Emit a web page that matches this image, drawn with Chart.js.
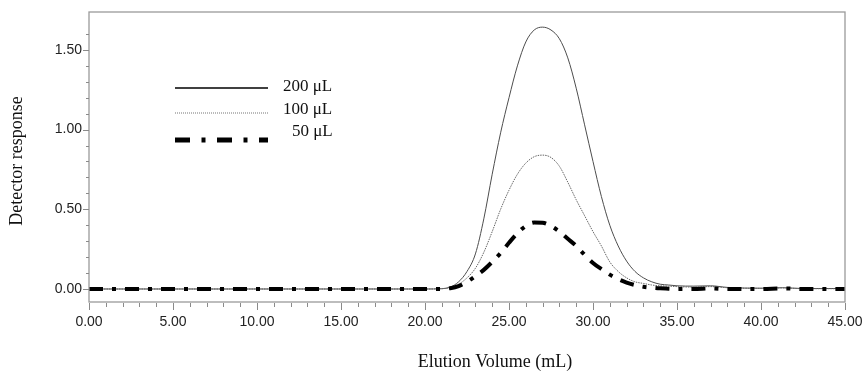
<!DOCTYPE html>
<html>
<head>
<meta charset="utf-8">
<script src="https://cdn.jsdelivr.net/npm/chart.js@4.4.1/dist/chart.umd.min.js"></script>
<style>
  html, body { margin: 0; padding: 0; background: #fff; }
  #wrap { width: 866px; height: 372px; position: relative; }
</style>
</head>
<body>
<div id="wrap"><canvas id="chart"></canvas></div>
<script>
// elution volume (mL) shared by all three injections
const volume = [0, 10, 20, 21, 21.5, 22, 22.5, 23, 23.5, 24, 24.5, 25, 25.5, 26, 26.5, 27, 27.5, 28, 28.5, 29,
  29.5, 30, 30.5, 31, 31.5, 32, 32.5, 33, 33.5, 34, 34.5, 35, 36, 37, 38, 40, 41.3, 42.5, 45];

const resp200 = [0, 0, 0, 0.002, 0.012, 0.045, 0.11, 0.22, 0.44, 0.72, 0.98, 1.2, 1.4, 1.55, 1.625, 1.643, 1.625, 1.57, 1.45, 1.26,
  1.03, 0.8, 0.58, 0.4, 0.27, 0.175, 0.11, 0.07, 0.045, 0.03, 0.025, 0.02, 0.018, 0.02, 0.01, 0.005, 0.008, 0.003, 0.003];
const resp100 = [0, 0, 0, 0.002, 0.01, 0.03, 0.07, 0.13, 0.23, 0.36, 0.5, 0.62, 0.72, 0.79, 0.83, 0.84, 0.825, 0.77, 0.67, 0.56,
  0.46, 0.36, 0.27, 0.17, 0.11, 0.07, 0.045, 0.035, 0.025, 0.02, 0.018, 0.015, 0.012, 0.015, 0.008, 0.004, 0.007, 0.002, 0.002];
const resp50 = [0, 0, 0, 0, 0.005, 0.018, 0.045, 0.08, 0.12, 0.17, 0.225, 0.29, 0.35, 0.395, 0.417, 0.415, 0.395, 0.36, 0.315, 0.27,
  0.215, 0.163, 0.125, 0.09, 0.062, 0.04, 0.025, 0.014, 0.008, 0.004, 0.002, 0, 0, 0.003, 0, 0, 0.004, 0, 0];

const seriesLabels = ['200 μL', '100 μL', '50 μL'];
const xTickValues = [0, 5, 10, 15, 20, 25, 30, 35, 40, 45];
const yTickValues = [0, 0.5, 1.0, 1.5];
const xAxisTitle = 'Elution Volume (mL)';
const yAxisTitle = 'Detector response';

const serif = '"Liberation Serif", "DejaVu Serif", serif';
const sans = '"Liberation Sans", Arial, sans-serif';
const dashDot = [14, 9, 4, 9];

function toPoints(ys) {
  return volume.map((x, i) => ({ x: x, y: ys[i] }));
}

// box, tick marks, axis titles and the legend
const framePlugin = {
  id: 'frame',
  afterDraw(chart) {
    const ctx = chart.ctx;
    const area = chart.chartArea;
    const xs = chart.scales.x;
    const ys = chart.scales.y;
    ctx.save();

    ctx.strokeStyle = '#9a9a9a';
    ctx.lineWidth = 1.3;
    ctx.strokeRect(area.left, area.top, area.right - area.left, area.bottom - area.top);

    ctx.lineWidth = 1;
    ctx.strokeStyle = '#8a8a8a';
    ctx.beginPath();
    for (let v = 0; v <= 45; v++) {
      const px = Math.round(xs.getPixelForValue(v)) + 0.5;
      ctx.moveTo(px, area.bottom + 1);
      ctx.lineTo(px, area.bottom + (v % 5 === 0 ? 8 : 5));
    }
    for (let i = 0; i <= 16; i++) {
      const py = Math.round(ys.getPixelForValue(i / 10)) + 0.5;
      ctx.moveTo(area.left, py);
      ctx.lineTo(area.left - (i % 5 === 0 ? 6 : 3), py);
    }
    ctx.stroke();

    // axis titles
    ctx.fillStyle = '#111';
    ctx.font = '18px ' + serif;
    ctx.textAlign = 'center';
    ctx.textBaseline = 'middle';
    ctx.fillText(xAxisTitle, 495, 362);
    ctx.save();
    ctx.translate(17, 161);
    ctx.rotate(-Math.PI / 2);
    ctx.fillText(yAxisTitle, 0, 0);
    ctx.restore();

    // legend
    const rows = [
      { y: 88, ty: 87, tx: 283, color: '#000', width: 1.5, dash: [] },
      { y: 113, ty: 110, tx: 283, color: '#777', width: 1, dash: [1, 1] },
      { y: 140, ty: 132, tx: 292, color: '#000', width: 5, dash: [15, 11.5, 4, 11.5] }
    ];
    rows.forEach((r, i) => {
      ctx.beginPath();
      ctx.setLineDash(r.dash);
      ctx.lineCap = 'butt';
      ctx.strokeStyle = r.color;
      ctx.lineWidth = r.width;
      ctx.moveTo(175, r.y);
      ctx.lineTo(268, r.y);
      ctx.stroke();
      ctx.setLineDash([]);
      ctx.font = '17px ' + serif;
      ctx.textAlign = 'left';
      ctx.fillStyle = '#111';
      ctx.fillText(seriesLabels[i], r.tx, r.ty);
    });
    ctx.restore();
  }
};

const ctx = document.getElementById('chart').getContext('2d');
new Chart(ctx, {
  type: 'line',
  data: {
    datasets: [
      {
        label: seriesLabels[0],
        data: toPoints(resp200),
        borderColor: '#4d4d4d',
        borderWidth: 1,
        order: 2
      },
      {
        label: seriesLabels[1],
        data: toPoints(resp100),
        borderColor: '#666',
        borderWidth: 1,
        borderDash: [1.5, 1],
        order: 1
      },
      {
        label: seriesLabels[2],
        data: toPoints(resp50),
        borderColor: '#000',
        borderWidth: 4,
        borderDash: dashDot,
        borderCapStyle: 'butt',
        order: 0
      }
    ]
  },
  options: {
    responsive: true,
    maintainAspectRatio: false,
    animation: false,
    layout: { padding: { left: 0, top: 12, right: 21, bottom: 0 } },
    elements: {
      point: { radius: 0 },
      line: { cubicInterpolationMode: 'monotone', fill: false }
    },
    plugins: {
      legend: { display: false },
      tooltip: { enabled: false }
    },
    scales: {
      x: {
        type: 'linear',
        min: 0,
        max: 45,
        grid: { display: false, drawTicks: false },
        border: { display: false },
        afterFit(scale) {
          scale.height = 70;
          scale.paddingLeft = 0;
          scale.paddingRight = 0;
        },
        afterBuildTicks(scale) { scale.ticks = xTickValues.map(v => ({ value: v })); },
        ticks: {
          padding: 12,
          maxRotation: 0,
          autoSkip: false,
          color: '#222',
          font: { family: sans, size: 14 },
          callback: v => Number(v).toFixed(2)
        }
      },
      y: {
        type: 'linear',
        min: -0.0816,
        max: 1.738,
        grid: { display: false, drawTicks: false },
        border: { display: false },
        afterFit(scale) {
          scale.width = 89;
          scale.paddingTop = 0;
          scale.paddingBottom = 0;
        },
        afterBuildTicks(scale) { scale.ticks = yTickValues.map(v => ({ value: v })); },
        ticks: {
          padding: 7,
          autoSkip: false,
          color: '#222',
          font: { family: sans, size: 14 },
          callback: v => Number(v).toFixed(2)
        }
      }
    }
  },
  plugins: [framePlugin]
});
</script>
</body>
</html>
